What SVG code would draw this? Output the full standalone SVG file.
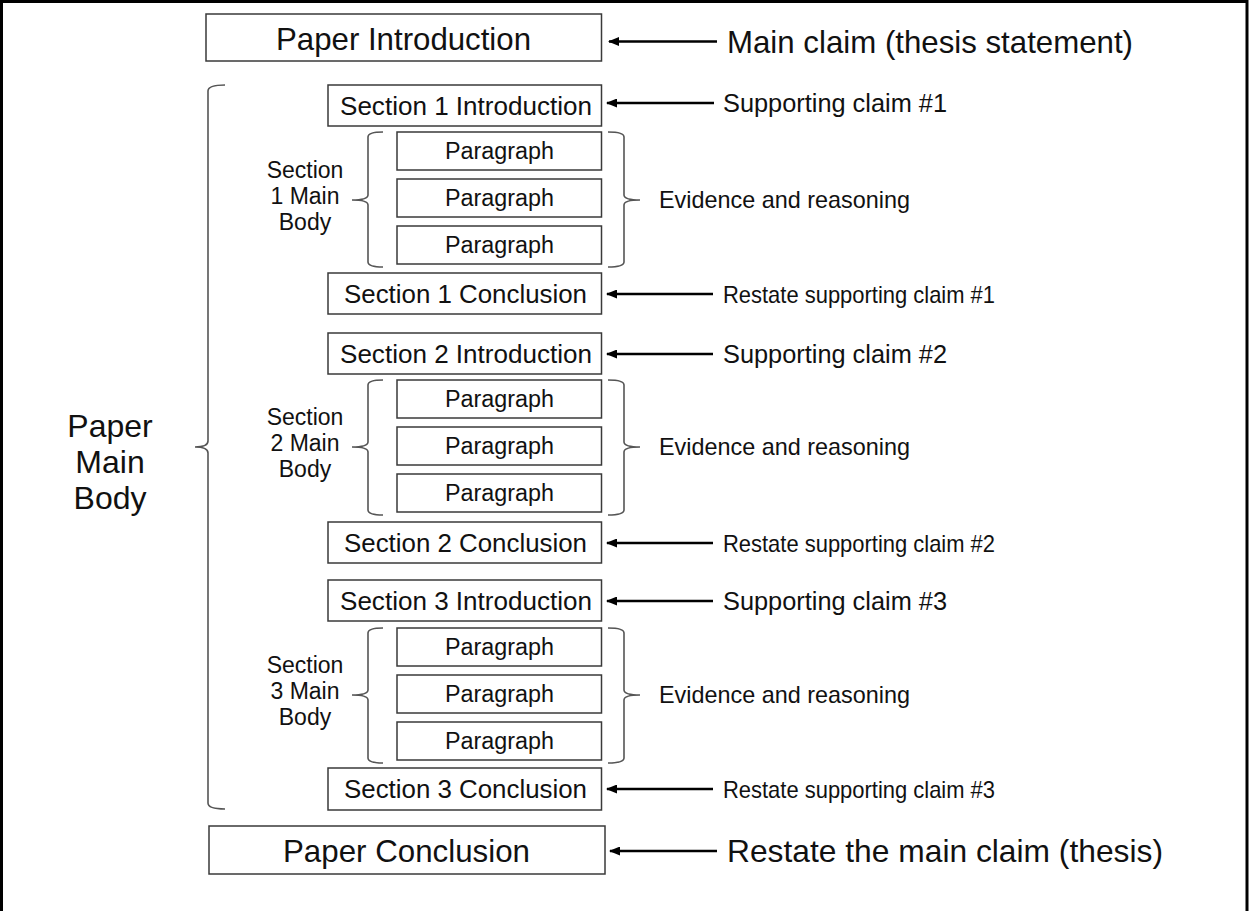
<svg xmlns="http://www.w3.org/2000/svg" width="1249" height="911" viewBox="0 0 1249 911">
<style>
.box{fill:#fff;stroke:#3a3a3a;stroke-width:1.5}
.brace{fill:none;stroke:#555;stroke-width:1.6}
.t{font-family:"Liberation Sans",Arial,sans-serif;fill:#111}
.big{font-size:32px}
.sec{font-size:25px}
.par{font-size:23px}
.lbl{font-size:23px;text-anchor:middle}
.mbig{font-size:32px;text-anchor:middle}
.note{font-size:26px}
.rest{font-size:24px}
.ev{font-size:24px}
.arr{stroke:#000;stroke-width:2.4;fill:none;marker-end:url(#ah)}
</style>
<defs>
<marker id="ah" markerWidth="11" markerHeight="9" refX="10" refY="4.5" orient="auto" markerUnits="userSpaceOnUse">
<path d="M0,0 L11,4.5 L0,9 Z" fill="#000"/>
</marker>
</defs>
<rect width="1249" height="911" fill="#fff"/>
<path d="M1.5,911 V1.5 H1247 V911" fill="none" stroke="#000" stroke-width="3"/>

<g id="paper-intro">
<rect class="box" x="206" y="14" width="395.5" height="47"/>
<text class="t big" x="276" y="49.5" textLength="255" lengthAdjust="spacingAndGlyphs">Paper Introduction</text>
</g>
<g id="main-claim"><text class="t big" x="727" y="53" textLength="406" lengthAdjust="spacingAndGlyphs">Main claim (thesis statement)</text></g>

<g id="paper-main-body">
<path class="brace" d="M225,85 Q208,85 208,91 L208,441 Q208,447 195,447 Q208,447 208,453 L208,803 Q208,809 225,809"/>
<text class="t mbig" x="110" y="437">Paper</text>
<text class="t mbig" x="110" y="473">Main</text>
<text class="t mbig" x="110" y="509">Body</text>
</g>

<!-- Section 1 -->
<g id="s1-intro">
<rect class="box" x="328" y="85" width="273.5" height="41"/>
<text class="t sec" x="340" y="115" textLength="252" lengthAdjust="spacingAndGlyphs">Section 1 Introduction</text>
</g>
<g id="s1-claim"><text class="t note" x="723" y="112" textLength="224" lengthAdjust="spacingAndGlyphs">Supporting claim #1</text></g>
<g id="s1-body">
<path class="brace" d="M383,132 Q368,132 368,137 L368,195 Q368,200 352,200 Q368,200 368,205 L368,262 Q368,267 383,267"/>
<text class="t lbl" x="305" y="178">Section</text>
<text class="t lbl" x="305" y="204">1 Main</text>
<text class="t lbl" x="305" y="230">Body</text>
</g>
<g id="s1-p1"><rect class="box" x="397" y="132" width="204.5" height="38"/><text class="t par" x="445" y="159" textLength="109" lengthAdjust="spacingAndGlyphs">Paragraph</text></g>
<g id="s1-p2"><rect class="box" x="397" y="179" width="204.5" height="38"/><text class="t par" x="445" y="206" textLength="109" lengthAdjust="spacingAndGlyphs">Paragraph</text></g>
<g id="s1-p3"><rect class="box" x="397" y="226" width="204.5" height="38"/><text class="t par" x="445" y="253" textLength="109" lengthAdjust="spacingAndGlyphs">Paragraph</text></g>
<g id="s1-evidence">
<path class="brace" d="M608,132 Q624,132 624,137 L624,195 Q624,200 640,200 Q624,200 624,205 L624,262 Q624,267 608,267"/>
<text class="t ev" x="659" y="208" textLength="251" lengthAdjust="spacingAndGlyphs">Evidence and reasoning</text>
</g>
<g id="s1-concl">
<rect class="box" x="328" y="273" width="273.5" height="41"/>
<text class="t sec" x="344" y="302.5" textLength="243" lengthAdjust="spacingAndGlyphs">Section 1 Conclusion</text>
</g>
<g id="s1-restate"><text class="t rest" x="723" y="303" textLength="272" lengthAdjust="spacingAndGlyphs">Restate supporting claim #1</text></g>

<!-- Section 2 -->
<g id="s2-intro">
<rect class="box" x="328" y="333" width="273.5" height="41"/>
<text class="t sec" x="340" y="363" textLength="252" lengthAdjust="spacingAndGlyphs">Section 2 Introduction</text>
</g>
<g id="s2-claim"><text class="t note" x="723" y="363" textLength="224" lengthAdjust="spacingAndGlyphs">Supporting claim #2</text></g>
<g id="s2-body">
<path class="brace" d="M383,380 Q368,380 368,385 L368,442 Q368,447 352,447 Q368,447 368,452 L368,510 Q368,515 383,515"/>
<text class="t lbl" x="305" y="425">Section</text>
<text class="t lbl" x="305" y="451">2 Main</text>
<text class="t lbl" x="305" y="477">Body</text>
</g>
<g id="s2-p1"><rect class="box" x="397" y="380" width="204.5" height="38"/><text class="t par" x="445" y="407" textLength="109" lengthAdjust="spacingAndGlyphs">Paragraph</text></g>
<g id="s2-p2"><rect class="box" x="397" y="427" width="204.5" height="38"/><text class="t par" x="445" y="454" textLength="109" lengthAdjust="spacingAndGlyphs">Paragraph</text></g>
<g id="s2-p3"><rect class="box" x="397" y="474" width="204.5" height="38"/><text class="t par" x="445" y="501" textLength="109" lengthAdjust="spacingAndGlyphs">Paragraph</text></g>
<g id="s2-evidence">
<path class="brace" d="M608,380 Q624,380 624,385 L624,442 Q624,447 640,447 Q624,447 624,452 L624,510 Q624,515 608,515"/>
<text class="t ev" x="659" y="455" textLength="251" lengthAdjust="spacingAndGlyphs">Evidence and reasoning</text>
</g>
<g id="s2-concl">
<rect class="box" x="328" y="522" width="273.5" height="41"/>
<text class="t sec" x="344" y="551.5" textLength="243" lengthAdjust="spacingAndGlyphs">Section 2 Conclusion</text>
</g>
<g id="s2-restate"><text class="t rest" x="723" y="552" textLength="272" lengthAdjust="spacingAndGlyphs">Restate supporting claim #2</text></g>

<!-- Section 3 -->
<g id="s3-intro">
<rect class="box" x="328" y="580" width="273.5" height="41"/>
<text class="t sec" x="340" y="610" textLength="252" lengthAdjust="spacingAndGlyphs">Section 3 Introduction</text>
</g>
<g id="s3-claim"><text class="t note" x="723" y="610" textLength="224" lengthAdjust="spacingAndGlyphs">Supporting claim #3</text></g>
<g id="s3-body">
<path class="brace" d="M383,628 Q368,628 368,633 L368,690 Q368,695 352,695 Q368,695 368,700 L368,758 Q368,763 383,763"/>
<text class="t lbl" x="305" y="673">Section</text>
<text class="t lbl" x="305" y="699">3 Main</text>
<text class="t lbl" x="305" y="725">Body</text>
</g>
<g id="s3-p1"><rect class="box" x="397" y="628" width="204.5" height="38"/><text class="t par" x="445" y="655" textLength="109" lengthAdjust="spacingAndGlyphs">Paragraph</text></g>
<g id="s3-p2"><rect class="box" x="397" y="675" width="204.5" height="38"/><text class="t par" x="445" y="702" textLength="109" lengthAdjust="spacingAndGlyphs">Paragraph</text></g>
<g id="s3-p3"><rect class="box" x="397" y="722" width="204.5" height="38"/><text class="t par" x="445" y="749" textLength="109" lengthAdjust="spacingAndGlyphs">Paragraph</text></g>
<g id="s3-evidence">
<path class="brace" d="M608,628 Q624,628 624,633 L624,690 Q624,695 640,695 Q624,695 624,700 L624,758 Q624,763 608,763"/>
<text class="t ev" x="659" y="703" textLength="251" lengthAdjust="spacingAndGlyphs">Evidence and reasoning</text>
</g>
<g id="s3-concl">
<rect class="box" x="328" y="768" width="273.5" height="42"/>
<text class="t sec" x="344" y="798" textLength="243" lengthAdjust="spacingAndGlyphs">Section 3 Conclusion</text>
</g>
<g id="s3-restate"><text class="t rest" x="723" y="798" textLength="272" lengthAdjust="spacingAndGlyphs">Restate supporting claim #3</text></g>

<g id="paper-concl">
<rect class="box" x="209" y="826" width="396" height="48"/>
<text class="t big" x="283" y="862" textLength="247" lengthAdjust="spacingAndGlyphs">Paper Conclusion</text>
</g>
<g id="restate-main"><text class="t big" x="727" y="862" textLength="436" lengthAdjust="spacingAndGlyphs">Restate the main claim (thesis)</text></g>

<g id="connectors">
<line class="arr" x1="717" y1="41.5" x2="609" y2="41.5"/>
<line class="arr" x1="714" y1="103" x2="607" y2="103"/>
<line class="arr" x1="713" y1="294" x2="607" y2="294"/>
<line class="arr" x1="713" y1="354" x2="607" y2="354"/>
<line class="arr" x1="713" y1="543" x2="607" y2="543"/>
<line class="arr" x1="713" y1="601" x2="607" y2="601"/>
<line class="arr" x1="713" y1="789" x2="607" y2="789"/>
<line class="arr" x1="717" y1="851" x2="610" y2="851"/>
</g>
</svg>
